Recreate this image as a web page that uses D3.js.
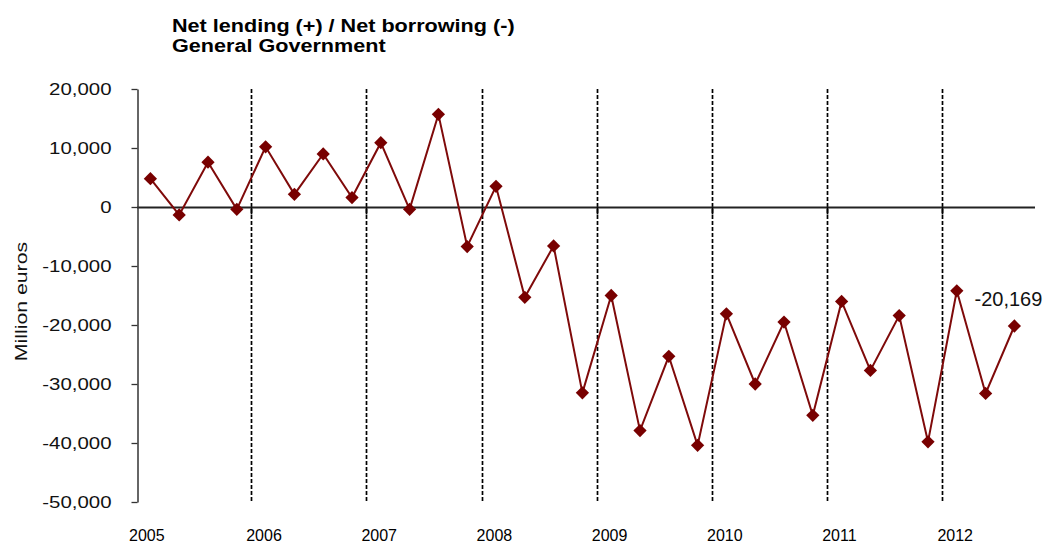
<!DOCTYPE html>
<html>
<head>
<meta charset="utf-8">
<script src="https://cdn.jsdelivr.net/npm/d3@7/dist/d3.min.js"></script>
<style>
  html, body { margin: 0; padding: 0; background: #fff; }
  svg { display: block; font-family: "Liberation Sans", Arial, sans-serif; }
</style>
</head>
<body>
<svg id="chart" width="1051" height="544"></svg>
<script>
// Quarterly net lending / net borrowing of general government, million euros
const years = ["2005", "2006", "2007", "2008", "2009", "2010", "2011", "2012"];
const quarters = ["Q1", "Q2", "Q3", "Q4"];
const values = [
  4800, -1350, 7600, -400,
  10200, 2150, 9000, 1600,
  10900, -400, 15700, -6700,
  3500, -15300, -6600, -31500,
  -15000, -37900, -25300, -40400,
  -18100, -30000, -19500, -35300,
  -16000, -27700, -18400, -39800,
  -14200, -31600, -20169
];
const yTicks = [20000, 10000, 0, -10000, -20000, -30000, -40000, -50000];
const titleLines = ["Net lending (+) / Net borrowing (-)", "General Government"];
const yTitle = "Million euros";

const periods = values.map((v, i) => years[Math.floor(i / 4)] + " " + quarters[i % 4]);
const data = values.map((v, i) => ({ period: periods[i], value: v }));

// Thousands separator with a plain hyphen for negatives
const fmt = d3.formatLocale({ decimal: ".", thousands: ",", grouping: [3], currency: ["", ""], minus: "-" }).format(",");

const svg = d3.select("#chart");
const plot = { left: 137, right: 1030, top: 89, bottom: 502 };

const x = d3.scaleBand().domain(periods).range([136, 136 + 31 * 28.8]).padding(0);
const y = d3.scaleLinear().domain([-50000, 20000]).range([plot.bottom, plot.top]);

const lineColor = "#7f0a0a";

// Stretch a text node horizontally by a factor along its own baseline
function stretch(sel, k) {
  sel.each(function () {
    const len = this.getComputedTextLength();
    d3.select(this).attr("textLength", len * k).attr("lengthAdjust", "spacingAndGlyphs");
  });
}

// Title
const title = svg.append("g");
titleLines.forEach((t, i) => {
  title.append("text")
    .attr("x", 172).attr("y", 32 + i * 20)
    .attr("font-size", 18).attr("font-weight", "bold")
    .attr("fill", "#000")
    .text(t)
    .call(stretch, 1.2);
});

// Year separators: dashed verticals at the start of each year after the first
svg.append("g").selectAll("line.sep")
  .data(years.slice(1))
  .join("line")
  .attr("x1", d => Math.round(x(d + " Q1")) + 0.5)
  .attr("x2", d => Math.round(x(d + " Q1")) + 0.5)
  .attr("y1", plot.top).attr("y2", plot.bottom)
  .attr("stroke", "#000").attr("stroke-width", 1.7)
  .attr("stroke-dasharray", "4,2");

// Category axis on the zero line
const zeroY = Math.round(y(0)) + 0.5;
svg.append("line")
  .attr("x1", plot.left).attr("x2", 1035)
  .attr("y1", zeroY).attr("y2", zeroY)
  .attr("stroke", "#222").attr("stroke-width", 2);
svg.append("g").selectAll("line.tk")
  .data(years.slice(1))
  .join("line")
  .attr("x1", d => Math.round(x(d + " Q1")) + 0.5)
  .attr("x2", d => Math.round(x(d + " Q1")) + 0.5)
  .attr("y1", zeroY).attr("y2", zeroY + 7)
  .attr("stroke", "#000").attr("stroke-width", 1.7);

// Year labels along the bottom
svg.append("g").selectAll("text.year")
  .data(years)
  .join("text")
  .attr("x", (d, i) => x(d + " Q1") - (i === 0 ? 7 : 5))
  .attr("y", 541)
  .attr("font-size", 16)
  .attr("fill", "#000")
  .text(d => d);

// Value axis
const yAxis = svg.append("g")
  .attr("transform", `translate(${plot.left + 0.5},0)`)
  .call(d3.axisLeft(y).tickValues(yTicks).tickSize(6).tickPadding(20)
    .tickFormat(fmt).tickSizeOuter(0));
yAxis.select(".domain").attr("stroke", "#333").attr("stroke-width", 1.5);
yAxis.selectAll(".tick line").attr("stroke", "#333").attr("stroke-width", 1.3);
yAxis.selectAll(".tick text")
  .attr("font-size", 17).attr("fill", "#111")
  .attr("font-family", "Liberation Sans, Arial, sans-serif")
  .call(stretch, 1.2);

// Axis title
svg.append("text")
  .attr("transform", `translate(27,${(plot.top + plot.bottom) / 2 + 6}) rotate(-90)`)
  .attr("text-anchor", "middle")
  .attr("font-size", 17).attr("fill", "#111")
  .text(yTitle)
  .call(stretch, 1.25);

// Series line
const line = d3.line().x(d => x(d.period) + x.bandwidth() / 2).y(d => y(d.value));
svg.append("path")
  .datum(data)
  .attr("d", line)
  .attr("fill", "none")
  .attr("stroke", lineColor)
  .attr("stroke-width", 2);

// Diamond markers
const diamond = d3.symbol().type(d3.symbolSquare).size(88);
svg.append("g").selectAll("path.mk")
  .data(data)
  .join("path")
  .attr("transform", d => `translate(${x(d.period) + x.bandwidth() / 2},${y(d.value)}) rotate(45)`)
  .attr("d", diamond)
  .attr("fill", "#780000");

// Label on the latest quarter
const last = data[data.length - 1];
svg.append("text")
  .attr("x", x(last.period) + x.bandwidth() / 2 - 6)
  .attr("y", y(last.value) - 20)
  .attr("text-anchor", "middle")
  .attr("font-size", 20).attr("fill", "#111")
  .text(fmt(last.value));
</script>
</body>
</html>
